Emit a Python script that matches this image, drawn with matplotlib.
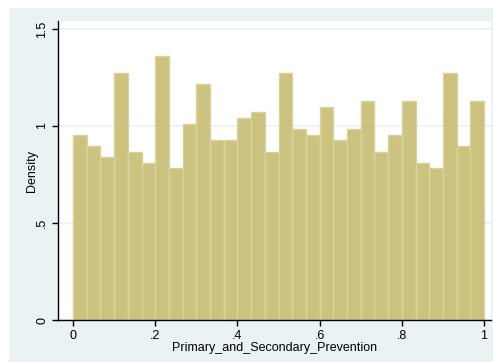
import numpy as np
import matplotlib.pyplot as plt
from matplotlib.patches import Rectangle

# histogram densities (30 bins on [0, 1])
bin_edges = np.linspace(0, 1, 31)
density = [0.952, 0.895, 0.838, 1.273, 0.864, 0.807, 1.361, 0.781, 1.009, 1.216,
           0.926, 0.926, 1.040, 1.071, 0.864, 1.273, 0.983, 0.952, 1.097, 0.926,
           0.983, 1.128, 0.864, 0.952, 1.128, 0.807, 0.781, 1.273, 0.895, 1.128]
x_ticks = [0, 0.2, 0.4, 0.6, 0.8, 1]
x_labels = ['0', '.2', '.4', '.6', '.8', '1']
y_ticks = [0, 0.5, 1, 1.5]
y_labels = ['0', '.5', '1', '1.5']

plt.rcParams['font.family'] = ['Liberation Sans', 'DejaVu Sans']

W, H = 493, 362
fig = plt.figure(figsize=(W / 100, H / 100), dpi=100, facecolor='white')
fig.patches.append(Rectangle((9 / W, 0), 1, 1 - 8 / H, transform=fig.transFigure,
                             facecolor='#eaf2f3', edgecolor='none', zorder=-10))

ax = fig.add_axes([58 / W, (H - 320) / H, 433 / W, 299 / H])
ax.set_zorder(1)
ax.set_facecolor('white')

ax.bar(bin_edges[:-1], density, width=np.diff(bin_edges), align='edge',
       color='#cbc37f', edgecolor='#d9d39e', linewidth=1.0, zorder=2)

ax.set_xlim(-0.0365, 1.017)
ax.set_ylim(0, 1.541)
ax.set_xticks(x_ticks)
ax.set_xticklabels(x_labels)
ax.set_yticks(y_ticks)
ax.set_yticklabels(y_labels, rotation=90, va='center')

ax.yaxis.grid(True, color='#eaf2f3', linewidth=1.2, zorder=1)
ax.set_axisbelow(True)

for side in ['top', 'right']:
    ax.spines[side].set_visible(False)
for side in ['left', 'bottom']:
    ax.spines[side].set_color('black')
    ax.spines[side].set_linewidth(1.0)

ax.tick_params(axis='both', direction='out', length=4, width=1, colors='black',
               labelsize=9, pad=3)

ax.set_xlabel('Primary_and_Secondary_Prevention', fontsize=9, labelpad=0)
ax.set_ylabel('Density', fontsize=9, labelpad=-1)

fig.savefig('out.png', dpi=100, facecolor='white')
